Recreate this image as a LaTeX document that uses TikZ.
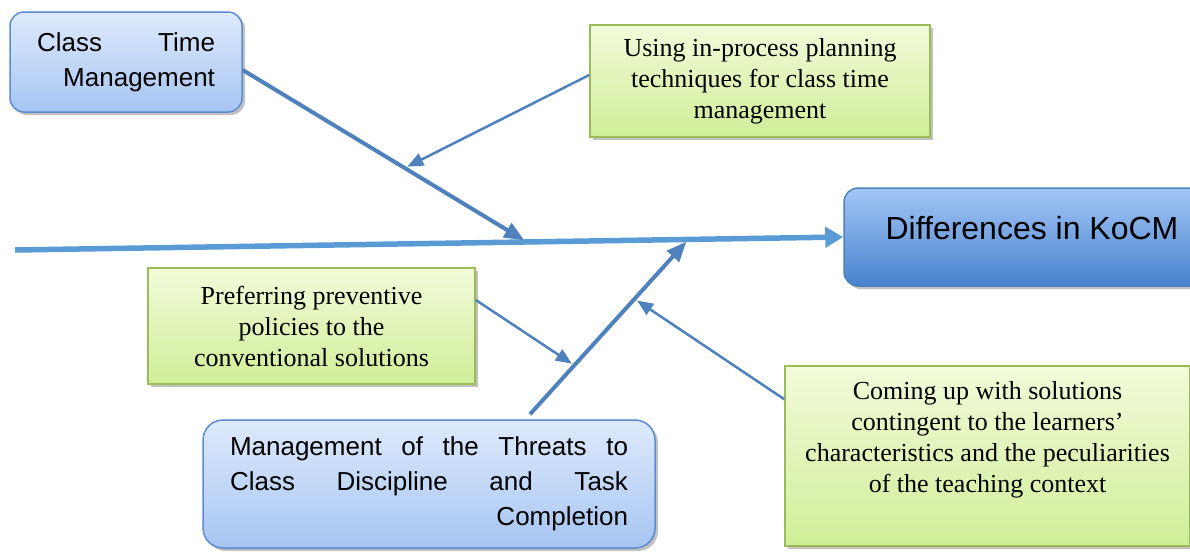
\documentclass[tikz,border=0pt]{standalone}
\usepackage{fontspec}
\setmainfont{Liberation Serif}
\newfontfamily\arialfont{Liberation Sans}
\usetikzlibrary{arrows.meta,calc,shadows}

\definecolor{lineblue}{RGB}{79,129,189}
\definecolor{spineblue}{RGB}{91,155,213}
\definecolor{blueedge}{RGB}{91,139,208}
\definecolor{paleblueA}{RGB}{222,234,252}
\definecolor{paleblueB}{RGB}{166,197,242}
\definecolor{deepblueA}{RGB}{164,198,246}
\definecolor{deepblueB}{RGB}{70,130,206}
\definecolor{greenA}{RGB}{242,251,218}
\definecolor{greenB}{RGB}{208,238,152}
\definecolor{greenedge}{RGB}{155,187,89}

\newcommand{\spreadline}[2]{\makebox[#1][s]{#2}}

\tikzset{
  boxshadow/.style={drop shadow={shadow xshift=3pt,shadow yshift=-3pt,opacity=0.35,fill=black!70}},
  causebox/.style={draw=blueedge, line width=1.5pt, rounded corners=14pt,
    top color=paleblueA, bottom color=paleblueB, boxshadow, inner sep=0pt,
    font=\arialfont\fontsize{26}{35}\selectfont},
  subbox/.style={draw=greenedge, line width=1.5pt, top color=greenA, bottom color=greenB,
    boxshadow, inner sep=0pt, align=center, font=\fontsize{26}{31}\selectfont},
  effectbox/.style={draw=lineblue, line width=1.5pt, rounded corners=14pt,
    top color=deepblueA, bottom color=deepblueB, boxshadow, inner sep=0pt},
  spine/.style={draw=spineblue, line width=5.5pt, -{Triangle[length=18pt,width=20pt]}},
  bone/.style={draw=lineblue, line width=4pt, -{Triangle[length=20pt,width=16pt]}, shorten >=3pt},
  twig/.style={draw=lineblue, line width=2.5pt, -{Triangle[length=16pt,width=13pt]}, shorten >=3pt},
}

\begin{document}
\begin{tikzpicture}[x=1pt,y=-1pt]
\useasboundingbox (0,0) rectangle (1190,552);

% effect
\node[effectbox, minimum width=376pt, minimum height=98pt] (kocm) at (1032,237) {};
\node[font=\arialfont\fontsize{32}{38}\selectfont] (kocmtext) at ([yshift=9pt]kocm.center) {Differences in KoCM};

% causes
\node[causebox, minimum width=232pt, minimum height=100pt, align=right] (ctm) at (126,62)
  {\spreadline{178pt}{Class Time}\\Management};
\node[causebox, rounded corners=20pt, minimum width=452pt, minimum height=128pt, align=right] (thr) at (429,484)
  {\spreadline{398pt}{Management of the Threats to}\\\spreadline{398pt}{Class Discipline and Task}\\Completion};

% sub-causes
\node[subbox, minimum width=340pt, minimum height=112pt] (plan) at (760,81)
  {Using in-process planning\\techniques for class time\\management};
\node[subbox, minimum width=327pt, minimum height=116pt] (pref) at (311.5,326)
  {Preferring preventive\\policies to the\\conventional solutions};
\node[subbox, minimum width=405pt, minimum height=180pt] (ctx) at (987.5,456) {};
\node[align=center, font=\fontsize{26}{31}\selectfont] (ctxtext) at ([yshift=16pt]ctx.center)
  {Coming up with solutions\\contingent to the learners'\\characteristics and the peculiarities\\of the teaching context};

% bones
\coordinate (spinestart) at (15,250);
\coordinate (ctmtail) at ([yshift=-8pt]ctm.east);
\coordinate (ctmhead) at ($(spinestart)!0.618!(kocm.west)$);
\coordinate (thrtail) at ([xshift=101pt,yshift=5pt]thr.north);
\coordinate (thrhead) at ($(spinestart)!0.813!(kocm.west)$);

\draw[spine] (spinestart) -- (kocm.west);
\draw[bone] (ctmtail) -- (ctmhead);
\draw[bone] (thrtail) -- (thrhead);

\draw[twig] ([yshift=6pt]plan.west) -- ($(ctmtail)!0.57!(ctmhead)$);
\draw[twig] ([yshift=26pt]pref.east) -- ($(thrtail)!0.28!(thrhead)$);
\draw[twig] ([yshift=-34pt]ctx.north west) -- ($(thrtail)!0.66!(thrhead)$);

\end{tikzpicture}
\end{document}
